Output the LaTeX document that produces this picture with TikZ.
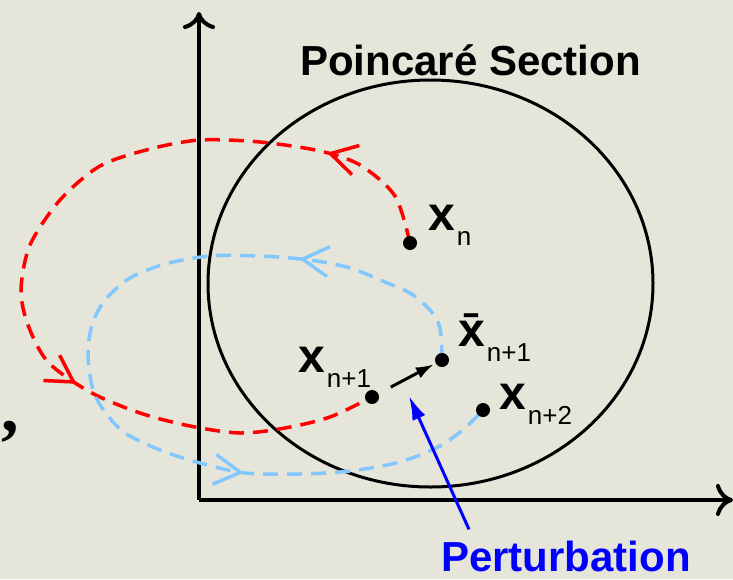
\documentclass[tikz,border=0pt]{standalone}
\usepackage{fontspec}
\setmainfont{Liberation Sans}
\newfontfamily\commaface{Liberation Serif}
\usetikzlibrary{arrows.meta,decorations.markings}

\definecolor{paper}{RGB}{229,229,217}
\definecolor{orbitred}{RGB}{255,0,0}
\definecolor{orbitblue}{RGB}{130,200,255}
\definecolor{kickblue}{RGB}{0,0,255}

% x with subscript, as printed beside the points
\newcommand{\ptlabel}[2]{{\fontsize{48}{50}\selectfont\bfseries #1}\kern2pt\raisebox{-15pt}{\fontsize{26}{27}\selectfont #2}}
\newcommand{\bigtext}{\fontsize{42}{44}\selectfont\bfseries}

\tikzset{
  axisline/.style={line width=4pt, -{To[length=17pt,width=32pt]}},
  section/.style={line width=3pt},
  orbit/.style={line width=3.5pt, dash pattern=on 15pt off 9pt, postaction={decorate}},
  chevrons/.style 2 args={decoration={markings,
      mark=at position #1 with {\arrow{Straight Barb[length=26pt,width=30pt]}},
      mark=at position #2 with {\arrow{Straight Barb[length=26pt,width=30pt]}}}},
  dot/.style={circle, fill=black, inner sep=0pt, minimum size=14pt},
  label/.style={anchor=base west, inner sep=0pt},
}

\begin{document}
\begin{tikzpicture}[x=1pt,y=-1pt]
  % Paper
  \fill[paper] (0,0) rectangle (733,579);
  \useasboundingbox (0,0) rectangle (733,579);

  % Poincare section
  \draw[section] (430.5,283.5) ellipse [x radius=222.5pt, y radius=203.5pt];
  \node[label] (title) at (300,75) {\bigtext Poincaré Section};

  % Axes
  \coordinate (O) at (199,500);
  \draw[axisline] (O) -- (199,12);
  \draw[axisline] (O) -- (733,500);

  % Points on the section
  \coordinate (xn) at (410,243);
  \coordinate (xnp1) at (372,397);
  \coordinate (xbar) at (442,360);
  \coordinate (xnp2) at (483,410);

  % Red orbit: x_n back to x_{n+1}
  \draw[orbit, orbitred, chevrons={0.14}{0.67}]
    plot[smooth] coordinates {(xn) (395,196) (360,165) (320,151) (260,142)
      (200,140) (150,149) (100,166) (60,200) (30,245) (21,290) (28,325) (48,362)
      (90,392) (140,413) (190,426) (240,433) (285,428) (330,417) (xnp1)};

  % Blue orbit: perturbed point to x_{n+2}
  \draw[orbit, orbitblue, chevrons={0.21}{0.725}]
    plot[smooth] coordinates {(xbar) (440,328) (430,310) (410,293) (385,282)
      (350,268) (310,260) (260,256) (210,256) (165,264) (130,278) (105,300)
      (92,325) (88,355) (93,390) (105,412) (125,433) (160,450) (200,463)
      (245,473) (300,474) (350,471) (400,462) (440,446) (465,428) (xnp2)};

  % Dots on top of the orbits
  \node[dot] (dn) at (xn) {};
  \node[dot] (dnp1) at (xnp1) {};
  \node[dot] (dbar) at (xbar) {};
  \node[dot] (dnp2) at (xnp2) {};

  % Kick from x_{n+1} to the perturbed point
  \draw[line width=3pt, -{Latex[length=18pt,width=12pt]}, shorten <=14pt, shorten >=2pt]
    (dnp1) -- (dbar);

  % Labels
  \node[label] (labn) at (428,230) {\ptlabel{x}{n}};
  \node[label] (labnp1) at (298,372) {\ptlabel{x}{n+1}};
  \node[label] (labbar) at (458,346) {\ptlabel{\=x}{n+1}};
  \node[label] (labnp2) at (499,409) {\ptlabel{x}{n+2}};
  \node[label] (comma) at (1,431) {\fontsize{70}{70}\selectfont\commaface\bfseries ,};

  % Perturbation
  \node[label, text=kickblue] (pert) at (441,571) {\bigtext Perturbation};
  \coordinate (kick) at (409,396);
  \draw[kickblue, line width=3pt, -{Latex[length=24pt,width=14pt]}]
    ([shift={(28,-11)}]pert.north west) -- (kick);
\end{tikzpicture}
\end{document}
